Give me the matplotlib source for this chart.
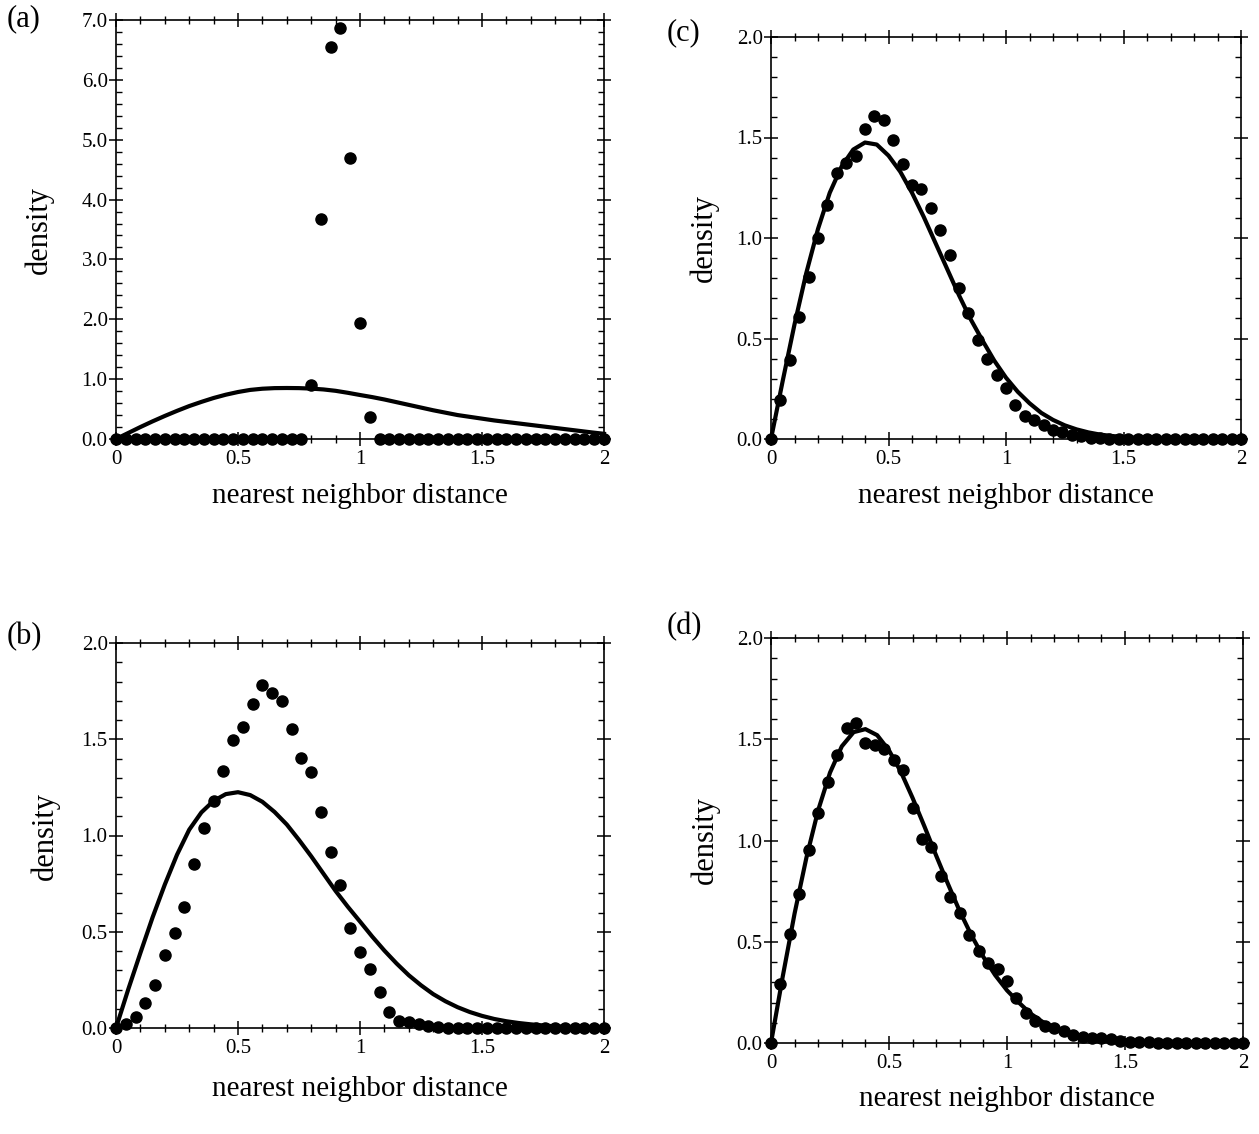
import numpy as np
import matplotlib
matplotlib.use('Agg')
import matplotlib.pyplot as plt
from matplotlib.ticker import MultipleLocator, FixedFormatter, FixedLocator

plt.rcParams['font.family'] = ['Liberation Serif', 'DejaVu Serif']

# histogram points, bins every 0.04 from 0 to 2
x_pts = np.round(np.arange(51) * 0.04, 2)
dens_a = [0] * 20 + [0.90, 3.67, 6.55, 6.87, 4.70, 1.94, 0.37] + [0] * 24
dens_b = [0, 0.02, 0.056, 0.128, 0.224, 0.377, 0.495, 0.630, 0.852, 1.038,
          1.181, 1.337, 1.494, 1.564, 1.684, 1.780, 1.742, 1.697, 1.554, 1.401,
          1.330, 1.123, 0.912, 0.743, 0.519, 0.396, 0.309, 0.188, 0.082, 0.034,
          0.030, 0.021, 0.008, 0.004, 0.002] + [0] * 16
dens_c = [0, 0.196, 0.392, 0.606, 0.808, 1.001, 1.163, 1.323, 1.374, 1.406,
          1.544, 1.605, 1.585, 1.489, 1.368, 1.266, 1.245, 1.150, 1.039, 0.916,
          0.752, 0.629, 0.493, 0.398, 0.320, 0.252, 0.171, 0.113, 0.096, 0.070,
          0.043, 0.033, 0.022, 0.013, 0.007, 0.004, 0.002] + [0] * 14
dens_d = [0, 0.289, 0.538, 0.735, 0.955, 1.136, 1.290, 1.422, 1.554, 1.580,
          1.483, 1.470, 1.450, 1.400, 1.349, 1.161, 1.009, 0.966, 0.826, 0.723,
          0.644, 0.533, 0.456, 0.396, 0.363, 0.307, 0.223, 0.147, 0.111, 0.086,
          0.073, 0.061, 0.041, 0.031, 0.023, 0.023, 0.020, 0.012, 0.007, 0.005,
          0.003] + [0] * 10

# fitted curves, every 0.05 from 0 to 2
x_fit = np.round(np.arange(41) * 0.05, 2)
fit_a = [0, 0.10, 0.20, 0.295, 0.385, 0.47, 0.55, 0.62, 0.685, 0.74,
         0.785, 0.82, 0.84, 0.85, 0.852, 0.85, 0.842, 0.828, 0.805, 0.772,
         0.735, 0.70, 0.66, 0.615, 0.57, 0.525, 0.48, 0.44, 0.40, 0.37,
         0.34, 0.31, 0.285, 0.26, 0.235, 0.21, 0.185, 0.16, 0.135, 0.11, 0.087]
fit_b = [0, 0.20, 0.39, 0.575, 0.745, 0.90, 1.03, 1.12, 1.18, 1.215,
         1.225, 1.21, 1.175, 1.122, 1.057, 0.977, 0.892, 0.802, 0.712, 0.63,
         0.553, 0.475, 0.402, 0.335, 0.274, 0.222, 0.176, 0.139, 0.108, 0.083,
         0.063, 0.047, 0.035, 0.026, 0.019, 0.013, 0.009, 0.006, 0.004, 0.003, 0.002]
fit_c = [0, 0.29, 0.57, 0.825, 1.045, 1.225, 1.355, 1.44, 1.475, 1.465,
         1.41, 1.33, 1.225, 1.105, 0.975, 0.845, 0.715, 0.595, 0.49, 0.39,
         0.305, 0.235, 0.178, 0.13, 0.095, 0.068, 0.048, 0.033, 0.022, 0.015,
         0.01, 0.006, 0.004, 0.002, 0.001, 0, 0, 0, 0, 0, 0]
fit_d = [0, 0.33, 0.64, 0.915, 1.15, 1.335, 1.465, 1.535, 1.55, 1.52,
         1.445, 1.34, 1.21, 1.07, 0.925, 0.785, 0.65, 0.53, 0.425, 0.335,
         0.26, 0.20, 0.145, 0.105, 0.075, 0.053, 0.037, 0.025, 0.017, 0.011,
         0.007, 0.005, 0.003, 0.002, 0.001, 0, 0, 0, 0, 0, 0]

xtick_vals = [0, 0.5, 1, 1.5, 2]
xtick_labels = ['0', '0.5', '1', '1.5', '2']

W, H = 1259, 1134
fig = plt.figure(figsize=(W / 100, H / 100), dpi=100)


def panel(box, tag, tagpos, pts, fit, ymax, ystep, yminor, xl, yl):
    l, r, t, b = box
    ax = fig.add_axes([l / W, 1 - b / H, (r - l) / W, (b - t) / H])
    ax.plot(x_fit, fit, color='black', lw=3.0, clip_on=False, zorder=3,
            solid_joinstyle='round')
    ax.plot(x_pts, pts, 'o', color='black', ms=8, clip_on=False, zorder=4)
    ax.set_xlim(0, 2)
    ax.set_ylim(0, ymax)
    ax.xaxis.set_major_locator(FixedLocator(xtick_vals))
    ax.xaxis.set_major_formatter(FixedFormatter(xtick_labels))
    ax.xaxis.set_minor_locator(MultipleLocator(0.1))
    ax.yaxis.set_major_locator(MultipleLocator(ystep))
    ax.yaxis.set_minor_locator(MultipleLocator(yminor))
    ax.yaxis.set_major_formatter(plt.FuncFormatter(lambda v, p: '%.1f' % v))
    for s in ax.spines.values():
        s.set_linewidth(1.2)
    ax.tick_params(axis='x', which='major', direction='inout', length=10, width=1.1,
                   top=True, labelsize=15, pad=3)
    ax.tick_params(axis='x', which='minor', direction='inout', length=6, width=1.0, top=True)
    ax.tick_params(axis='y', which='major', direction='inout', length=10, width=1.1,
                   right=True, labelsize=15, pad=1)
    ax.tick_params(axis='y', which='minor', direction='in', length=4.5, width=1.0, right=True)
    ax.set_xlabel('nearest neighbor distance', fontsize=21)
    ax.set_ylabel('density', fontsize=22)
    ax.xaxis.set_label_coords(0.5, xl)
    ax.yaxis.set_label_coords(yl, 0.5)
    fig.text(tagpos[0] / W, 1 - tagpos[1] / H, tag, fontsize=22, va='top', ha='left')
    return ax


panel((116, 604, 20, 439), '(a)', (7, 4), dens_a, fit_a, 7.0, 1.0, 0.2, -0.105, -0.128)
panel((771, 1241, 37, 439), '(c)', (667, 18), dens_c, fit_c, 2.0, 0.5, 0.1, -0.11, -0.11)
panel((116, 604, 643, 1028), '(b)', (7, 622), dens_b, fit_b, 2.0, 0.5, 0.1, -0.125, -0.115)
panel((771, 1243, 638, 1043), '(d)', (667, 612), dens_d, fit_d, 2.0, 0.5, 0.1, -0.105, -0.108)

fig.savefig('out.png', dpi=100)
